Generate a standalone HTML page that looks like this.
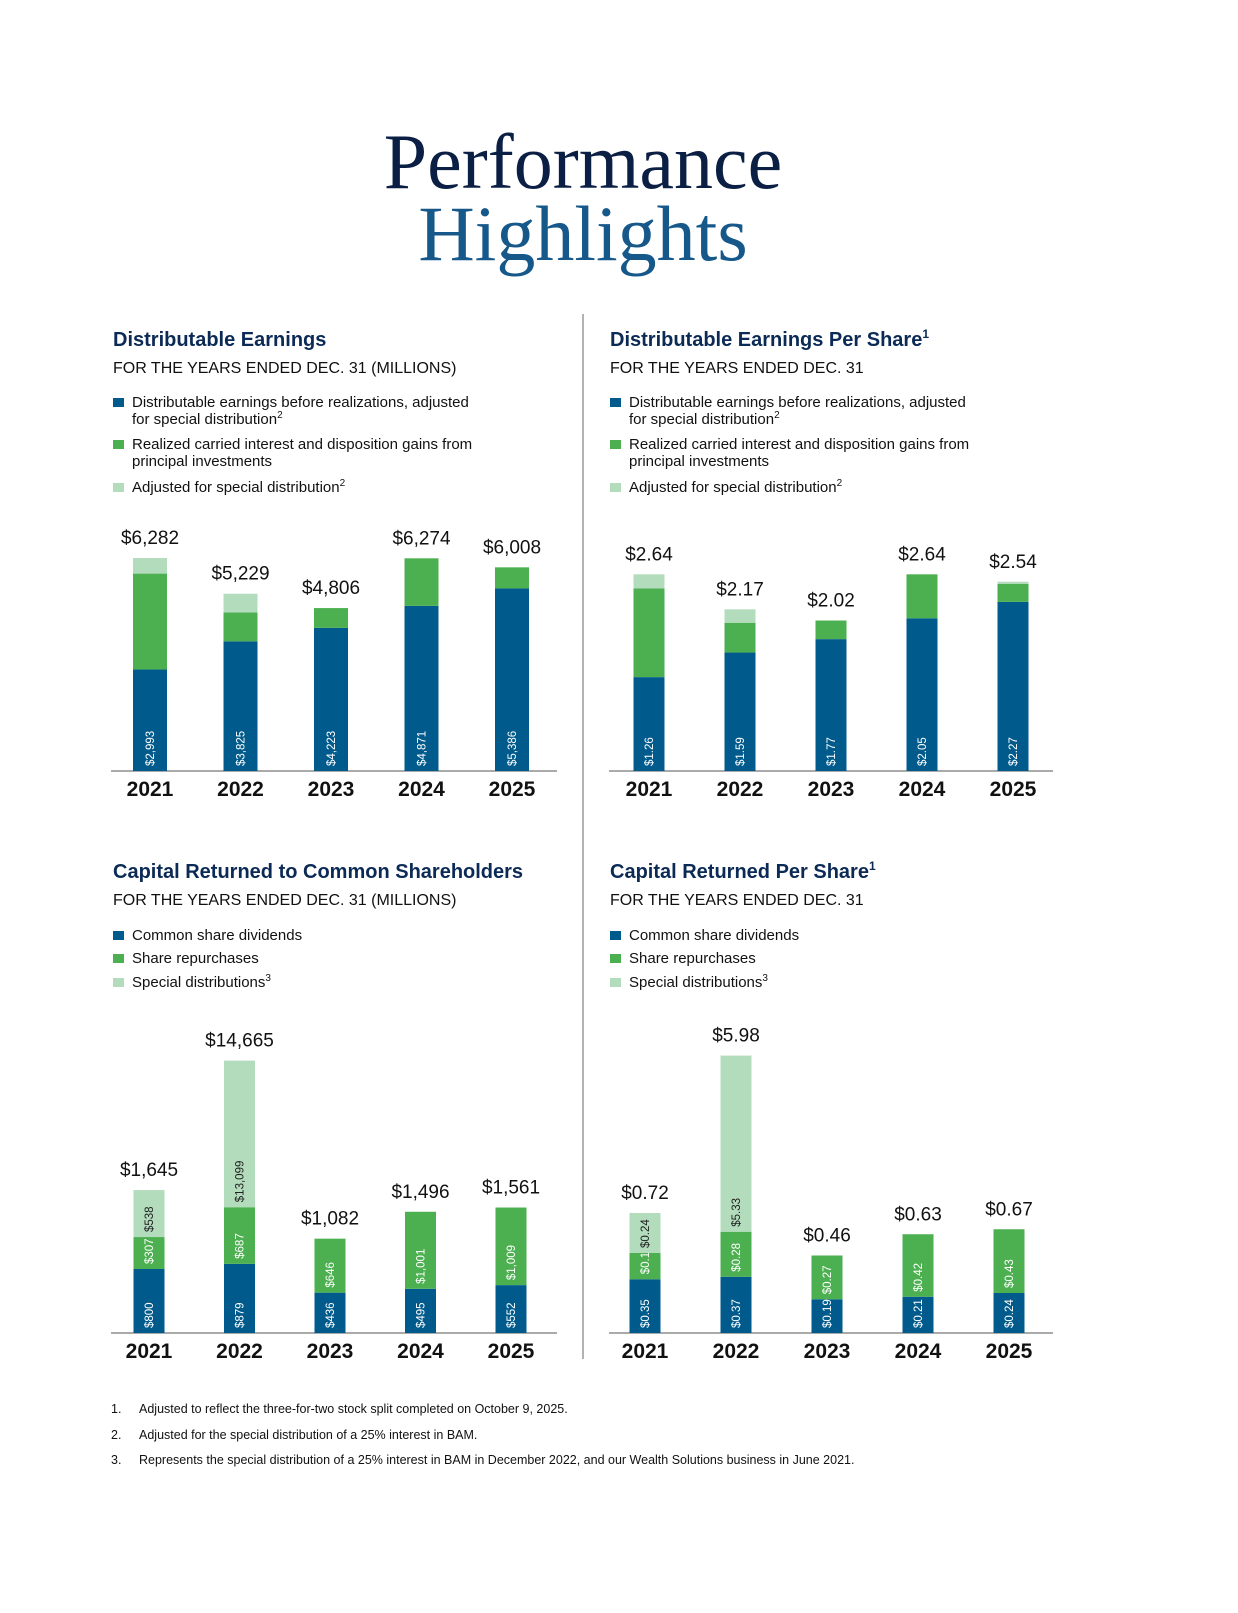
<!DOCTYPE html>
<html><head><meta charset="utf-8">
<style>
body{margin:0;background:#fff;}
svg{display:block;font-family:"Liberation Sans",Arial,sans-serif;}
</style></head>
<body>
<svg id="page" width="1238" height="1613" viewBox="0 0 1238 1613">
<text x="583" y="188" text-anchor="middle" font-family="Liberation Serif,serif" font-size="78" fill="#0b1f44">Performance</text>
<text x="583" y="260" text-anchor="middle" font-family="Liberation Serif,serif" font-size="78" fill="#16588a">Highlights</text>
<line x1="583" y1="314" x2="583" y2="1359" stroke="#9a9a9a" stroke-width="1.5"/>

<g font-size="12.5" fill="#111">
<text x="111" y="1413">1.</text><text x="139" y="1413">Adjusted to reflect the three-for-two stock split completed on October 9, 2025.</text>
<text x="111" y="1439">2.</text><text x="139" y="1439">Adjusted for the special distribution of a 25% interest in BAM.</text>
<text x="111" y="1464">3.</text><text x="139" y="1464">Represents the special distribution of a 25% interest in BAM in December 2022, and our Wealth Solutions business in June 2021.</text>
</g>
</svg>
<script>
const years = ["2021","2022","2023","2024","2025"];
// Chart 1: Distributable Earnings (millions)
const de_base = [2993,3825,4223,4871,5386];
const de_realized = [2830,850,583,1403,622];
const de_special = [459,554,0,0,0];
const de_totals = ["$6,282","$5,229","$4,806","$6,274","$6,008"];
const de_baseLbl = ["$2,993","$3,825","$4,223","$4,871","$5,386"];
// Chart 2: DE per share
const dps_base = [1.26,1.59,1.77,2.05,2.27];
const dps_realized = [1.19,0.40,0.25,0.59,0.24];
const dps_special = [0.19,0.18,0,0,0.03];
const dps_totals = ["$2.64","$2.17","$2.02","$2.64","$2.54"];
const dps_baseLbl = ["$1.26","$1.59","$1.77","$2.05","$2.27"];
// Chart 3: Capital returned (millions)
const cr_div = [800,879,436,495,552];
const cr_rep = [307,687,646,1001,1009];
const cr_spec = [538,13099,0,0,0];
const cr_totals = ["$1,645","$14,665","$1,082","$1,496","$1,561"];
const cr_divLbl = ["$800","$879","$436","$495","$552"];
const cr_repLbl = ["$307","$687","$646","$1,001","$1,009"];
const cr_specLbl = ["$538","$13,099","","",""];
// Chart 4: Capital returned per share
const cps_div = [0.35,0.37,0.19,0.21,0.24];
const cps_rep = [0.13,0.28,0.27,0.42,0.43];
const cps_spec = [0.24,5.33,0,0,0];
const cps_totals = ["$0.72","$5.98","$0.46","$0.63","$0.67"];
const cps_divLbl = ["$0.35","$0.37","$0.19","$0.21","$0.24"];
const cps_repLbl = ["$0.13","$0.28","$0.27","$0.42","$0.43"];
const cps_specLbl = ["$0.24","$5.33","","",""];

const NS="http://www.w3.org/2000/svg";
const svg=document.getElementById('page');
const C={blue:"#005a8c",green:"#4caf50",light:"#b2dcbc"};
function mk(tag,attrs,parent){const e=document.createElementNS(NS,tag);for(const k in attrs)e.setAttribute(k,attrs[k]);(parent||svg).appendChild(e);return e;}

function header(x,y,title,sup,sub,legend){
  const g=mk('g',{});
  
  
  const t=mk('text',{x:x,y:y,'font-size':20,'font-weight':'bold',fill:'#0b2a55'},g);
  t.textContent=title;
  
  
  if(sup){const s=mk('tspan',{'font-size':12,dy:-8},t);s.textContent=sup;}
  const st=mk('text',{x:x,y:y+27,'font-size':16,fill:'#111'},g);
  st.textContent=sub;
  
  
  legend.forEach(it=>{
    const r=mk('rect',{x:x,y:it.y-9,width:11,height:9,fill:it.c},g);
    
    
    it.lines.forEach((ln,i)=>{
      const tx=mk('text',{x:x+19,y:it.y+i*17,'font-size':15,fill:'#111'},g);
      tx.textContent=ln;
      
      
      if(it.sup&&i===it.lines.length-1){const s=mk('tspan',{'font-size':10,dy:-6},tx);s.textContent=it.sup;}
    });
  });
}

function chart(o){
  const g=mk('g',{});
  
  
  const ax=mk('line',{x1:o.x0,x2:o.x1,y1:o.base,y2:o.base,stroke:'#aaa','stroke-width':2},g);
  
  
  years.forEach((yr,i)=>{
    const cx=o.c0+o.slot*i;
    let y=o.base;
    o.series.forEach((s,si)=>{
      const v=s.vals[i]; if(!v) return;
      const h=o.scale(v);
      const r=mk('rect',{x:cx-o.bw/2,y:y-h,width:o.bw,height:h,fill:s.color},g);
      
      
      const lbl=s.labels?s.labels[i]:'';
      if(lbl){
        const ly=y-5;
        const t=mk('text',{x:cx+4,y:ly,'font-size':11.5,fill:s.dark?'#222':'#fff',transform:`rotate(-90 ${cx+4} ${ly})`},g);
        t.textContent=lbl;
        
        
      }
      y-=h;
    });
    const tl=mk('text',{x:cx,y:y-14,'text-anchor':'middle','font-size':19,fill:'#111'},g);
    tl.textContent=o.totals[i];
    
    
    const yl=mk('text',{x:cx,y:o.base+25,'text-anchor':'middle','font-size':21,'font-weight':'bold',fill:'#111'},g);
    yl.textContent=yr;
    
    
  });
}

const legDE=(y0)=>[
 {y:y0,c:C.blue,lines:["Distributable earnings before realizations, adjusted","for special distribution"],sup:"2"},
 {y:y0+42,c:C.green,lines:["Realized carried interest and disposition gains from","principal investments"]},
 {y:y0+85,c:C.light,lines:["Adjusted for special distribution"],sup:"2"}];
const legCR=(y0)=>[
 {y:y0,c:C.blue,lines:["Common share dividends"]},
 {y:y0+23,c:C.green,lines:["Share repurchases"]},
 {y:y0+47,c:C.light,lines:["Special distributions"],sup:"3"}];

header(113,346,"Distributable Earnings","","FOR THE YEARS ENDED DEC. 31 (MILLIONS)",legDE(407));
header(610,346,"Distributable Earnings Per Share","1","FOR THE YEARS ENDED DEC. 31",legDE(407));
header(113,878,"Capital Returned to Common Shareholders","","FOR THE YEARS ENDED DEC. 31 (MILLIONS)",legCR(940));
header(610,878,"Capital Returned Per Share","1","FOR THE YEARS ENDED DEC. 31",legCR(940));

chart({name:'distributable-earnings-chart',x0:111,x1:557,base:771,bw:34,c0:150,slot:90.5,scale:v=>v*0.0339,totals:de_totals,
 series:[{key:'base',vals:de_base,color:C.blue,labels:de_baseLbl},{key:'realized',vals:de_realized,color:C.green},{key:'special',vals:de_special,color:C.light}]});
chart({name:'de-per-share-chart',x0:609,x1:1053,base:771,bw:31,c0:649,slot:91,scale:v=>v*74.5,totals:dps_totals,
 series:[{key:'base',vals:dps_base,color:C.blue,labels:dps_baseLbl},{key:'realized',vals:dps_realized,color:C.green},{key:'special',vals:dps_special,color:C.light}]});
const brk1=v=>v<=1500?12+v*0.065:109.5+(v-1500)*0.0032;
chart({name:'capital-returned-chart',x0:111,x1:557,base:1333,bw:31,c0:149,slot:90.5,scale:brk1,totals:cr_totals,
 series:[{key:'dividends',vals:cr_div,color:C.blue,labels:cr_divLbl},{key:'repurchases',vals:cr_rep,color:C.green,labels:cr_repLbl},{key:'special',vals:cr_spec,color:C.light,labels:cr_specLbl,dark:true}]});
const brk2=v=>v<=1?10+v*125:135+(v-1)*9.5;
chart({name:'capital-returned-per-share-chart',x0:609,x1:1053,base:1333,bw:31,c0:645,slot:91,scale:brk2,totals:cps_totals,
 series:[{key:'dividends',vals:cps_div,color:C.blue,labels:cps_divLbl},{key:'repurchases',vals:cps_rep,color:C.green,labels:cps_repLbl},{key:'special',vals:cps_spec,color:C.light,labels:cps_specLbl,dark:true}]});
</script>
</body></html>
